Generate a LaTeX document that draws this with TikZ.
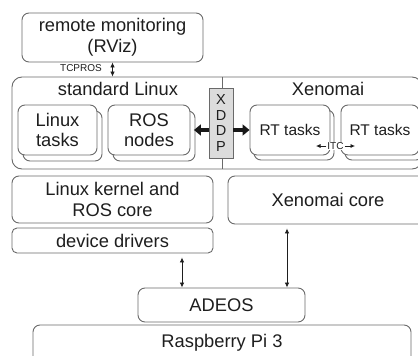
\documentclass[tikz,border=0pt]{standalone}
\usepackage{fontspec}
\setmainfont{Liberation Sans}
\usetikzlibrary{arrows.meta}
\definecolor{ln}{HTML}{6A6A6A}
\definecolor{tx}{HTML}{1E1E1E}
\definecolor{xg}{HTML}{DCDCDC}
\begin{document}
\begin{tikzpicture}[x=1pt,y=-1pt,
  box/.style={draw=ln, line width=0.9pt, rounded corners=7pt, fill=white, inner sep=0pt,
    text=tx, align=center, font=\fontsize{18.3}{20.5}\selectfont},
  rtbox/.style={box, font=\fontsize{15.5}{18}\selectfont},
  lbl/.style={inner sep=0pt, text=tx, font=\fontsize{18.3}{20.5}\selectfont},
  small/.style={inner sep=0.8pt, text=tx, fill=white, font=\fontsize{10}{11}\selectfont},
  xddpbox/.style={draw=ln, line width=0.9pt, fill=xg, inner sep=0pt, text=tx, align=center,
    font=\fontsize{14.5}{15.5}\selectfont},
  thin/.style={draw=ln, line width=0.9pt},
  dar/.style={draw=tx, line width=0.8pt, {Latex[length=5pt,width=4.5pt]}-{Latex[length=5pt,width=4.5pt]}},
  sar/.style={draw=tx, line width=0.7pt, -{Latex[length=4.5pt,width=4pt]}},
  bigar/.style={draw=black!90, line width=4.5pt, -{Triangle[length=7pt,width=11pt]}}
]
\useasboundingbox (0,0) rectangle (418,356);

% remote monitoring
\node[box, minimum width=181, minimum height=49] (remote) at (112.5,37.5) {remote monitoring\\(RViz)};

% outer box
\node[box, rounded corners=10pt, minimum width=410, minimum height=92] (outer) at (217,123) {};
\coordinate (sep) at (222,0);
\draw[thin] (outer.north -| sep) -- (outer.south -| sep);
\node[lbl] (stdlab) at (118,89) {standard Linux};
\node[lbl] (xenlab) at (328,89) {Xenomai};

% TCPROS
\draw[dar] (remote.south) -- (outer.north -| remote.south);
\node[small, fill=none] (tcpros) at (81,68.5) {TCPROS};

% Linux tasks
\node[box, minimum width=79, minimum height=50] (linS) at (62.5,136) {};
\node[box, minimum width=79, minimum height=50] (lin) at (57.5,130) {Linux\\tasks};
% ROS nodes
\node[box, minimum width=82, minimum height=50] (rosS) at (154,136) {};
\node[box, minimum width=82, minimum height=50] (ros) at (149,130) {ROS\\nodes};

% RT tasks
\node[rtbox, minimum width=80, minimum height=50] (rt1S) at (294,135) {};
\node[rtbox, minimum width=80, minimum height=50] (rt1) at (290,130) {RT tasks};
\node[rtbox, minimum width=78, minimum height=50] (rt2S) at (384,135) {};
\node[rtbox, minimum width=78, minimum height=50] (rt2) at (380,130) {RT tasks};

% XDDP
\node[xddpbox, minimum width=24, minimum height=70] (xddp) at (221,123) {X\\D\\D\\P};
\coordinate (ay) at (0,130);
\draw[bigar] (xddp.west |- ay) -- ([xshift=-1.5pt]rosS.east |- ay);
\draw[bigar] (xddp.east |- ay) -- (rt1.west |- ay);

% ITC
\node[small] (itc) at (335.5,146) {ITC};
\coordinate (itcl) at (316,146);
\coordinate (itcr) at (355,146);
\draw[sar] (itc.west) -- (itcl);
\draw[sar] (itc.east) -- (itcr);

% lower boxes
\node[box, minimum width=201, minimum height=47] (kernel) at (112.5,199.5) {Linux kernel and\\ROS core};
\node[box, rounded corners=5pt, minimum width=201, minimum height=25] (drivers) at (112.5,240.5) {device drivers};
\node[box, minimum width=200, minimum height=48] (xcore) at (328,200) {Xenomai core};
\node[box, minimum width=167, minimum height=34] (adeos) at (221.5,305) {ADEOS};
\node[box, minimum width=378, minimum height=40] (rpi) at (222,345) {};
\node[lbl] (rpilab) at (222,343) {Raspberry Pi 3};

\coordinate (a1) at (182,0);
\coordinate (a2) at (287,0);
\draw[dar, shorten <=4pt] (drivers.south -| a1) -- (adeos.north -| a1);
\draw[dar, shorten <=4pt] (xcore.south -| a2) -- (adeos.north -| a2);
\end{tikzpicture}
\end{document}
